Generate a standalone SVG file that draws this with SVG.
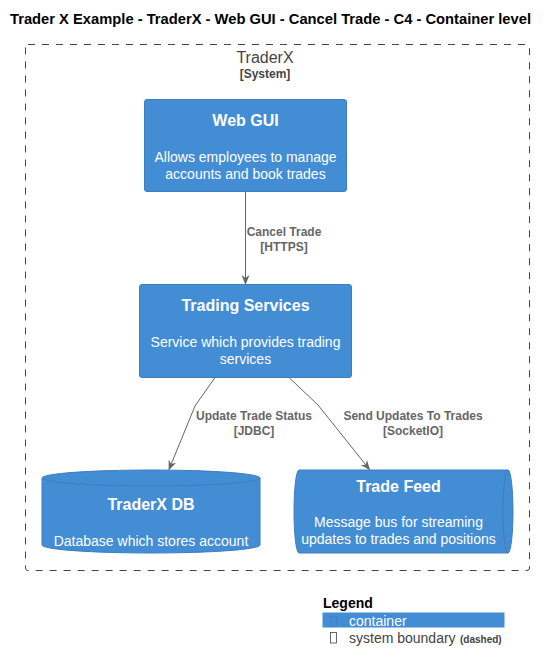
<svg xmlns="http://www.w3.org/2000/svg" width="547" height="672" viewBox="0 0 547 672">
<defs>
<style>
text{font-family:"Liberation Sans",Arial,sans-serif}
.title{font-size:14px;font-weight:bold;fill:#000}
.node{fill:#438DD5;stroke:#3C7FC0;stroke-width:1}
.nt{font-size:16px;font-weight:bold;fill:#FFF;text-anchor:middle}
.nd{font-size:14px;fill:#FFF;text-anchor:middle}
.edge{stroke:#666;stroke-width:1;fill:none;marker-end:url(#arr)}
.el{font-size:12px;font-weight:bold;fill:#666;text-anchor:middle}
</style>
<marker id="arr" viewBox="0 0 10 10" refX="9" refY="5" markerWidth="10" markerHeight="10" markerUnits="userSpaceOnUse" orient="auto">
<path d="M0,1 L10,5 L0,9 L3,5 Z" fill="#666"/>
</marker>
</defs>
<rect width="547" height="672" fill="#FFF"/>
<text class="title" x="10" y="24" textLength="521" lengthAdjust="spacingAndGlyphs">Trader X Example - TraderX - Web GUI - Cancel Trade - C4 - Container level</text>

<g id="boundary">
<rect x="25.5" y="44.5" width="504" height="526" rx="2.5" fill="none" stroke="#444" stroke-dasharray="7,7"/>
<text x="265" y="63" text-anchor="middle" style="font-size:16px;fill:#444">TraderX</text>
<text x="265" y="78" text-anchor="middle" style="font-size:12px;font-weight:bold;fill:#444">[System]</text>
</g>

<g id="webgui">
<rect class="node" x="144.5" y="99.5" width="202" height="92" rx="2.5"/>
<text class="nt" x="245.5" y="126">Web GUI</text>
<text class="nd" x="245.5" y="162">Allows employees to manage</text>
<text class="nd" x="245.5" y="178.5">accounts and book trades</text>
</g>

<g id="tradingservices">
<rect class="node" x="139.5" y="284.5" width="212" height="93" rx="2.5"/>
<text class="nt" x="245.5" y="311">Trading Services</text>
<text class="nd" x="245.5" y="347">Service which provides trading</text>
<text class="nd" x="245.5" y="363.5">services</text>
</g>

<g id="traderxdb">
<path class="node" d="M42,478 A109,8 0 0 1 260,478 L260,545 A109,8 0 0 1 42,545 Z"/>
<path d="M42,478 A109,8 0 0 0 260,478" fill="none" stroke="#3C7FC0"/>
<text class="nt" x="151" y="510">TraderX DB</text>
<text class="nd" x="151" y="546">Database which stores account</text>
</g>

<g id="tradefeed">
<path class="node" d="M299,470 L508,470 A5,41.5 0 0 1 508,553 L299,553 A5,41.5 0 0 1 299,470 Z"/>
<path d="M508,470 A5,41.5 0 0 0 508,553" fill="none" stroke="#3C7FC0"/>
<text class="nt" x="398.5" y="492">Trade Feed</text>
<text class="nd" x="398.5" y="527">Message bus for streaming</text>
<text class="nd" x="398.5" y="544">updates to trades and positions</text>
</g>

<g id="connectors">
<path class="edge" d="M245.5,192 L245.5,284"/>
<text class="el" x="284" y="236">Cancel Trade</text>
<text class="el" x="284" y="251">[HTTPS]</text>
<path class="edge" d="M215,377.5 L195,406 L169,469.5"/>
<text class="el" x="254" y="420">Update Trade Status</text>
<text class="el" x="254" y="435">[JDBC]</text>
<path class="edge" d="M289,377.5 L318,405 L369.5,469.5"/>
<text class="el" x="413" y="420">Send Updates To Trades</text>
<text class="el" x="413" y="435">[SocketIO]</text>
</g>

<g id="legend">
<text x="323" y="607.5" style="font-size:14px;font-weight:bold;fill:#000">Legend</text>
<rect x="322.5" y="612.5" width="182" height="15" fill="#438DD5"/>
<rect x="330.5" y="616.5" width="6" height="10" fill="none" stroke="#3C7FC0" stroke-width="0.8"/>
<text x="349" y="625.5" style="font-size:14px;fill:#FFF">container</text>
<rect x="330.5" y="632.5" width="6" height="10.5" fill="none" stroke="#444" stroke-width="0.8"/>
<text x="349" y="643" style="font-size:14px;fill:#444">system boundary</text>
<text x="460" y="643" style="font-size:10px;font-weight:bold;fill:#444">(dashed)</text>
</g>
</svg>
